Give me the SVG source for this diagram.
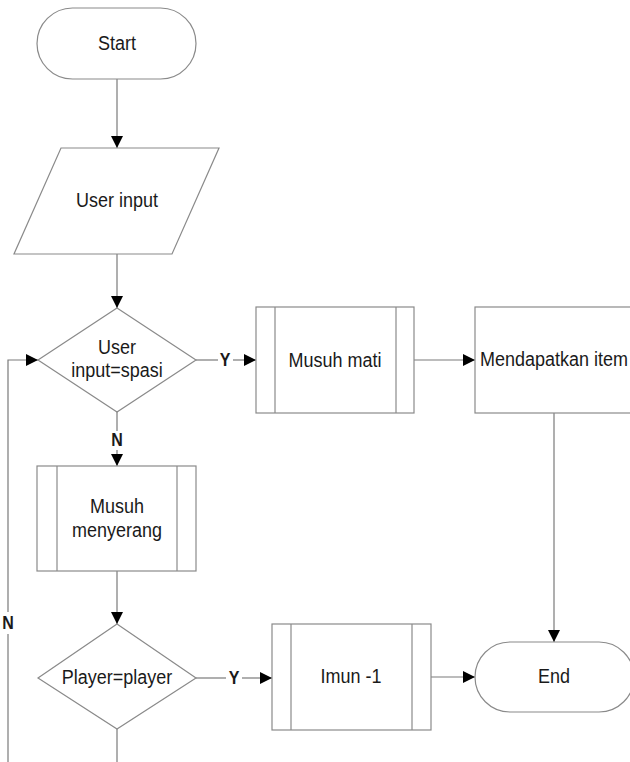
<svg xmlns="http://www.w3.org/2000/svg" width="630" height="762" viewBox="0 0 630 762">
<style>
.shape{fill:#fff;stroke:#8a8a8a;stroke-width:1.2}
.inner{fill:none;stroke:#8a8a8a;stroke-width:1.2}
.conn{fill:none;stroke:#7a7a7a;stroke-width:1.2}
.t{font-family:"Liberation Sans",Arial,sans-serif;font-size:18px;fill:#1a1a1a;text-anchor:middle}
.lbl{font-family:"Liberation Sans",Arial,sans-serif;font-size:16px;font-weight:bold;fill:#1a1a1a;text-anchor:middle}
</style>
<defs>
<marker id="ah" viewBox="0 0 12 12" refX="12" refY="6" markerWidth="12" markerHeight="12" markerUnits="userSpaceOnUse" orient="auto">
<path d="M0,0 L12,6 L0,12 Z" fill="#000"/>
</marker>
</defs>
<rect width="630" height="762" fill="#fff"/>

<g id="connectors">
<line class="conn" x1="117" y1="79" x2="117" y2="148" marker-end="url(#ah)"/>
<line class="conn" x1="117" y1="254" x2="117" y2="308" marker-end="url(#ah)"/>
<line class="conn" x1="196" y1="360" x2="218" y2="360"/>
<line class="conn" x1="233" y1="360" x2="256" y2="360" marker-end="url(#ah)"/>
<line class="conn" x1="414" y1="360" x2="475" y2="360" marker-end="url(#ah)"/>
<line class="conn" x1="554" y1="413" x2="554" y2="642" marker-end="url(#ah)"/>
<line class="conn" x1="117" y1="412" x2="117" y2="431"/>
<line class="conn" x1="117" y1="450" x2="117" y2="466" marker-end="url(#ah)"/>
<line class="conn" x1="117" y1="571" x2="117" y2="624" marker-end="url(#ah)"/>
<line class="conn" x1="117" y1="729" x2="117" y2="762"/>
<line class="conn" x1="196" y1="678" x2="226" y2="678"/>
<line class="conn" x1="242" y1="678" x2="272" y2="678" marker-end="url(#ah)"/>
<line class="conn" x1="431" y1="677" x2="475" y2="677" marker-end="url(#ah)"/>
<polyline class="conn" points="8,612 8,360 38,360" marker-end="url(#ah)"/>
<line class="conn" x1="8" y1="634" x2="8" y2="762"/>
<g transform="translate(225,366) scale(1,1.1)"><text class="lbl" x="0" y="0">Y</text></g>
<g transform="translate(117,446) scale(1,1.1)"><text class="lbl" x="0" y="0">N</text></g>
<g transform="translate(234,684) scale(1,1.1)"><text class="lbl" x="0" y="0">Y</text></g>
<g transform="translate(8,629) scale(1,1.1)"><text class="lbl" x="0" y="0">N</text></g>
</g>

<g id="start">
<rect class="shape" x="37" y="8" width="159" height="71" rx="35.5" ry="35.5"/>
<g transform="translate(117,50) scale(1,1.12)"><text class="t" x="0" y="0">Start</text></g>
</g>

<g id="user-input">
<polygon class="shape" points="61,148 219,148 172,254 14,254"/>
<g transform="translate(117,207) scale(1,1.12)"><text class="t" x="0" y="0">User input</text></g>
</g>

<g id="decision-spasi">
<polygon class="shape" points="117,308 196,360 117,412 38,360"/>
<g transform="translate(117,354) scale(1,1.12)"><text class="t" x="0" y="0">User</text></g>
<g transform="translate(117,377) scale(1,1.12)"><text class="t" x="0" y="0">input=spasi</text></g>
</g>

<g id="musuh-mati">
<rect class="shape" x="256" y="307" width="158" height="106"/>
<line class="inner" x1="275" y1="307" x2="275" y2="413"/>
<line class="inner" x1="396" y1="307" x2="396" y2="413"/>
<g transform="translate(335,367) scale(1,1.12)"><text class="t" x="0" y="0">Musuh mati</text></g>
</g>

<g id="mendapatkan-item">
<rect class="shape" x="475" y="307" width="160" height="106"/>
<g transform="translate(554,366) scale(1,1.12)"><text class="t" x="0" y="0">Mendapatkan item</text></g>
</g>

<g id="musuh-menyerang">
<rect class="shape" x="37" y="466" width="159" height="105"/>
<line class="inner" x1="57" y1="466" x2="57" y2="571"/>
<line class="inner" x1="177" y1="466" x2="177" y2="571"/>
<g transform="translate(117,513) scale(1,1.12)"><text class="t" x="0" y="0">Musuh</text></g>
<g transform="translate(117,537) scale(1,1.12)"><text class="t" x="0" y="0">menyerang</text></g>
</g>

<g id="decision-player">
<polygon class="shape" points="117,624 196,678 117,729 38,678"/>
<g transform="translate(117,684) scale(1,1.12)"><text class="t" x="0" y="0">Player=player</text></g>
</g>

<g id="imun">
<rect class="shape" x="272" y="624" width="159" height="106"/>
<line class="inner" x1="291" y1="624" x2="291" y2="730"/>
<line class="inner" x1="412" y1="624" x2="412" y2="730"/>
<g transform="translate(351,683) scale(1,1.12)"><text class="t" x="0" y="0">Imun -1</text></g>
</g>

<g id="end">
<rect class="shape" x="475" y="642" width="159" height="70" rx="35" ry="35"/>
<g transform="translate(554,683) scale(1,1.12)"><text class="t" x="0" y="0">End</text></g>
</g>
</svg>
